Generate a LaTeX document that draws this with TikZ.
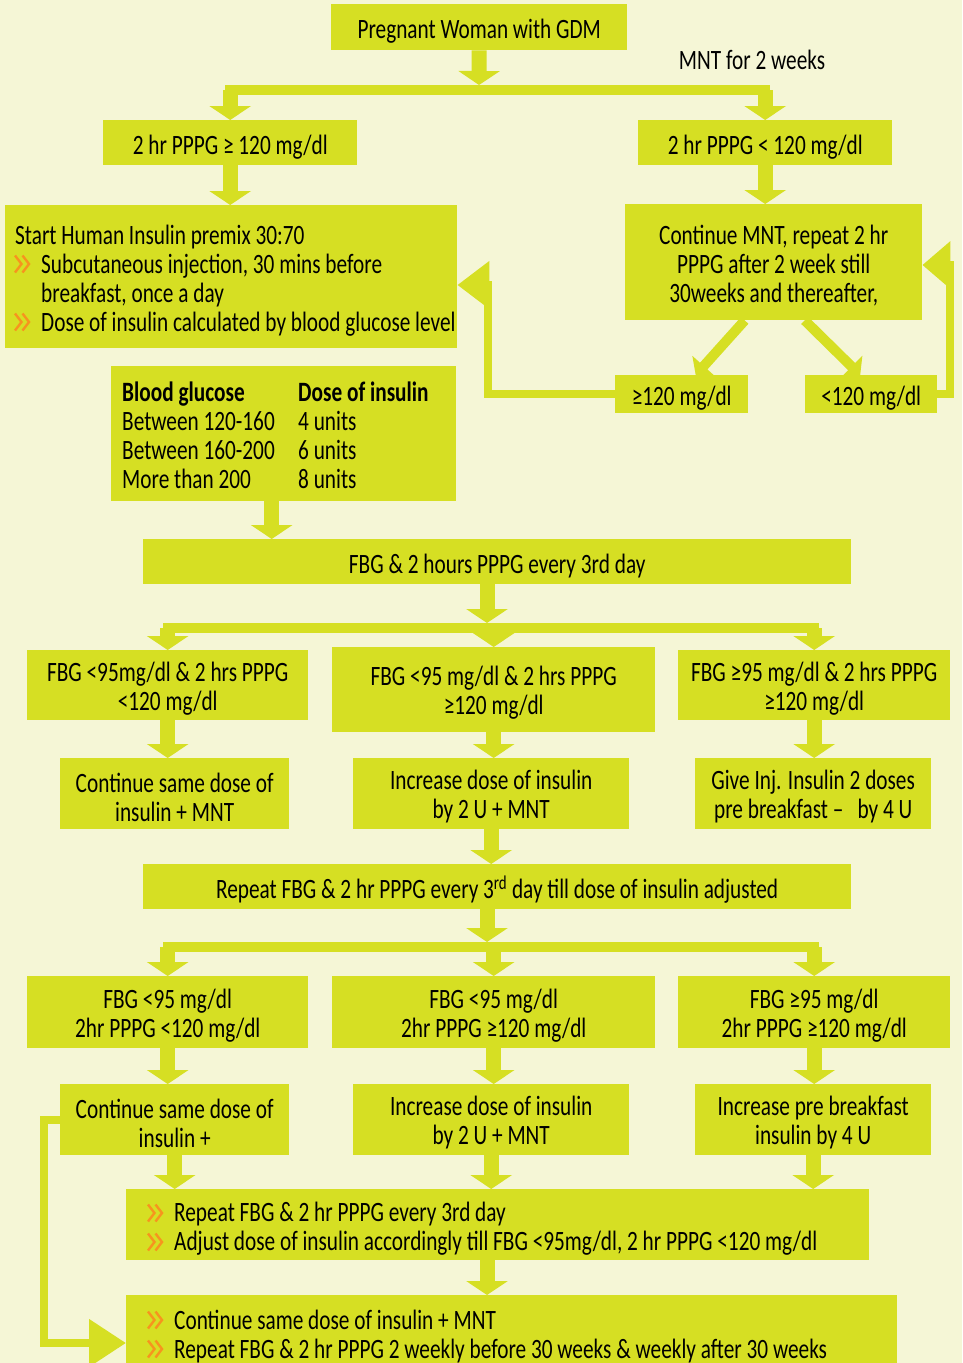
\documentclass[tikz,border=0pt]{standalone}
\usepackage{fontspec}
\setmainfont{Carlito}[FakeStretch=0.76]
\usepackage{xcolor}
\usetikzlibrary{arrows.meta}

\definecolor{boxgreen}{RGB}{214,223,35}
\definecolor{bgcream}{RGB}{245,246,214}
\definecolor{chevorange}{RGB}{247,148,30}
\newcommand{\chevgap}{\hspace*{26pt}}
\newcommand{\lift}{\rule{0pt}{26pt}}
\newcommand{\droptab}[1]{\raisebox{-5pt}[\height][\depth]{#1}}
\newcommand{\flowfont}{\fontsize{28}{29}\selectfont}

\tikzset{
  greenbox/.style={fill=boxgreen, anchor=north west, inner sep=0pt, font=\flowfont},
  flowbox/.style={greenbox, align=center, execute at begin node={\rule{0pt}{28pt}}},
  listbox/.style={greenbox, align=flush left},
  flowarrow/.style={draw=boxgreen, line width=15pt, -{Triangle[width=41pt,length=14pt]}},
  diagarrow/.style={draw=boxgreen, line width=10pt, -{Triangle[width=30pt,length=12pt]}},
  busline/.style={draw=boxgreen, line width=10pt, line cap=rect},
  loopline/.style={draw=boxgreen, line width=8pt, -{Triangle[width=46pt,length=32pt]}},
  chevron/.pic={\draw[chevorange, line width=2.4pt] (0,-8.5) -- (6.5,0) -- (0,8.5)
                                                    (7.5,-8.5) -- (14,0) -- (7.5,8.5);},
}

\begin{document}
\begin{tikzpicture}[x=1pt, y=-1pt]
            % page and background
            \useasboundingbox (0,0) rectangle (962,1363);
            \fill[bgcream] (0,0) rectangle (962,1363);

            % first split
            \node[flowbox, minimum width=296pt, minimum height=46pt] (gdm) at (331,4) {Pregnant Woman with GDM};
            \node[font=\flowfont] (mntlabel) at (752,60) {MNT for 2 weeks};
            \node[flowbox, minimum width=254pt, minimum height=45pt] (ppgHigh) at (103,120) {2 hr PPPG ≥ 120 mg/dl};
            \node[flowbox, minimum width=254pt, minimum height=45pt] (ppgLow) at (638,120) {2 hr PPPG < 120 mg/dl};

            % insulin start and MNT follow up
            \node[listbox, text width=432pt, inner xsep=10pt, minimum height=143pt] (premix) at (5,205)
                {\droptab{\begin{tabular}{@{}l@{}}
                 Start Human Insulin premix 30:70\\
                 \chevgap Subcutaneous injection, 30 mins before\\
                 \chevgap breakfast, once a day\\
                 \chevgap Dose of insulin calculated by blood glucose level
                 \end{tabular}}};
            \node[flowbox, minimum width=297pt, minimum height=116pt] (mntRepeat) at (625,204)
                {\lift Continue MNT, repeat 2 hr\\PPPG after 2 week still\\30weeks and thereafter,};
            \node[flowbox, minimum width=133pt, minimum height=38pt] (stillHigh) at (615,375) {≥120 mg/dl};
            \node[flowbox, minimum width=132pt, minimum height=38pt] (nowLow) at (805,375) {<120 mg/dl};
            \node[listbox, text width=323pt, inner xsep=11pt, minimum height=135pt] (doseTab) at (111,366)
                {\droptab{\begin{tabular}{@{}p{176pt}@{}l@{}}
                 \textbf{Blood glucose} & \textbf{Dose of insulin}\\
                 Between 120-160 & 4 units\\
                 Between 160-200 & 6 units\\
                 More than 200 & 8 units
                 \end{tabular}}};

            % every third day check
            \node[flowbox, minimum width=708pt, minimum height=45pt] (everyThird) at (143,539) {FBG \& 2 hours PPPG every 3rd day};
            \node[flowbox, minimum width=281pt, minimum height=70pt] (fbgOk) at (27,650) {\lift FBG <95mg/dl \& 2 hrs PPPG\\<120 mg/dl};
            \node[flowbox, minimum width=323pt, minimum height=85pt] (ppgOnly) at (332,647) {\lift FBG <95 mg/dl \& 2 hrs PPPG\\≥120 mg/dl};
            \node[flowbox, minimum width=272pt, minimum height=70pt] (bothHigh) at (678,650) {\lift FBG ≥95 mg/dl \& 2 hrs PPPG\\≥120 mg/dl};
            \node[flowbox, minimum width=229pt, minimum height=71pt] (keepDose) at (60,758) {\lift Continue same dose of\\insulin + MNT};
            \node[flowbox, minimum width=276pt, minimum height=71pt] (addTwo) at (353,758) {\lift Increase dose of insulin\\by 2 U + MNT};
            \node[flowbox, minimum width=236pt, minimum height=71pt] (twoDoses) at (695,758) {\lift Give Inj. Insulin 2 doses\\pre breakfast –\hspace{14pt}by 4 U};

            % repeat until adjusted
            \node[flowbox, minimum width=708pt, minimum height=45pt] (repeatAdj) at (143,864)
                {Repeat FBG \& 2 hr PPPG every 3\textsuperscript{rd} day till dose of insulin adjusted};
            \node[flowbox, minimum width=281pt, minimum height=72pt] (fbgOkB) at (27,976) {\lift FBG <95 mg/dl\\2hr PPPG <120 mg/dl};
            \node[flowbox, minimum width=323pt, minimum height=72pt] (ppgOnlyB) at (332,976) {\lift FBG <95 mg/dl\\2hr PPPG ≥120 mg/dl};
            \node[flowbox, minimum width=272pt, minimum height=72pt] (bothHighB) at (678,976) {\lift FBG ≥95 mg/dl\\2hr PPPG ≥120 mg/dl};
            \node[flowbox, minimum width=229pt, minimum height=71pt] (keepDoseB) at (60,1084) {\lift Continue same dose of\\insulin +};
            \node[flowbox, minimum width=276pt, minimum height=71pt] (addTwoB) at (353,1084) {\lift Increase dose of insulin\\by 2 U + MNT};
            \node[flowbox, minimum width=236pt, minimum height=71pt] (addFour) at (695,1084) {\lift Increase pre breakfast\\insulin by 4 U};

            % final boxes
            \node[listbox, text width=699pt, inner xsep=22pt, minimum height=71pt] (adjust) at (126,1189)
                {\droptab{\begin{tabular}{@{}l@{}}
                 \chevgap Repeat FBG \& 2 hr PPPG every 3rd day\\
                 \chevgap Adjust dose of insulin accordingly till FBG <95mg/dl, 2 hr PPPG <120 mg/dl
                 \end{tabular}}};
            \node[listbox, text width=727pt, inner xsep=22pt, minimum height=76pt] (maintain) at (126,1295)
                {\droptab{\begin{tabular}{@{}l@{}}
                 \chevgap Continue same dose of insulin + MNT\\
                 \chevgap Repeat FBG \& 2 hr PPPG 2 weekly before 30 weeks \& weekly after 30 weeks
                 \end{tabular}}};

            % orange bullets
            \foreach \dy in {59, 117}
                \pic at ([shift={(10,\dy)}]premix.north west) {chevron};
            \foreach \dy in {24, 53}
                \pic at ([shift={(22,\dy)}]adjust.north west) {chevron};
            \foreach \dy in {25, 54}
                \pic at ([shift={(22,\dy)}]maintain.north west) {chevron};

            % arrows of first split
            \coordinate (splitA) at (479,90);
            \draw[flowarrow] (gdm.south) -- ([yshift=5pt]splitA);
            \draw[busline] (splitA -| ppgHigh.north) -- (splitA -| ppgLow.north);
            \draw[flowarrow] (splitA -| ppgHigh.north) -- (ppgHigh.north);
            \draw[flowarrow] (splitA -| ppgLow.north) -- (ppgLow.north);
            \draw[flowarrow] (ppgHigh.south) -- (ppgHigh.south |- premix.north);
            \draw[flowarrow] (ppgLow.south) -- (ppgLow.south |- mntRepeat.north);

            % MNT follow up arrows and loops
            \draw[diagarrow] ([xshift=-29pt]mntRepeat.south) -- ([xshift=14pt]stillHigh.north);
            \draw[diagarrow] ([xshift=31pt]mntRepeat.south) -- ([xshift=-11pt]nowLow.north);
            \coordinate (backL) at (488,285);
            \draw[loopline] (stillHigh.west) -- (stillHigh.west -| backL) -- (backL) -- (backL -| premix.east);
            \coordinate (backR) at (950,265);
            \draw[loopline, -{Triangle[width=46pt,length=28pt]}] (nowLow.east) -- (nowLow.east -| backR) -- (backR) -- (backR -| mntRepeat.east);
            \draw[flowarrow] ([xshift=-12pt]doseTab.south) -- ([xshift=-12pt]doseTab.south |- everyThird.north);

            % second split
            \coordinate (splitB) at (487,628);
            \draw[flowarrow] (everyThird.south -| splitB) -- ([yshift=5pt]splitB);
            \draw[busline] (splitB -| fbgOk.north) -- (splitB -| bothHigh.north);
            \foreach \n in {fbgOk, ppgOnly, bothHigh}
                \draw[flowarrow] (splitB -| \n.north) -- (\n.north);
            \foreach \a/\b in {fbgOk/keepDose, ppgOnly/addTwo, bothHigh/twoDoses}
                \draw[flowarrow] (\a.south) -- (\a.south |- \b.north);
            \draw[flowarrow] (addTwo.south) -- (addTwo.south |- repeatAdj.north);

            % third split
            \coordinate (splitC) at (487,947);
            \draw[flowarrow] (repeatAdj.south -| splitC) -- ([yshift=5pt]splitC);
            \draw[busline] (splitC -| fbgOkB.north) -- (splitC -| bothHighB.north);
            \foreach \n in {fbgOkB, ppgOnlyB, bothHighB}
                \draw[flowarrow] (splitC -| \n.north) -- (\n.north);
            \foreach \a/\b in {fbgOkB/keepDoseB, ppgOnlyB/addTwoB, bothHighB/addFour}
                \draw[flowarrow] (\a.south) -- (\a.south |- \b.north);
            \foreach \n in {keepDoseB, addTwoB, addFour}
                \draw[flowarrow] (\n.south) -- (\n.south |- adjust.north);
            \draw[flowarrow] (adjust.south -| splitC) -- (splitC |- maintain.north);

            % bypass loop on the left
            \coordinate (backB) at (44,1343);
            \draw[loopline, -{Triangle[width=46pt,length=37pt]}] (keepDoseB.west) -- (keepDoseB.west -| backB) -- (backB) -- (backB -| maintain.west);
\end{tikzpicture}
\end{document}
